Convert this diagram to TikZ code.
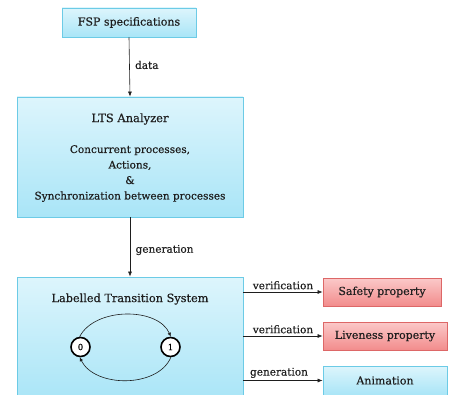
\documentclass[tikz,border=0pt]{standalone}
\usepackage{fontspec}
\setmainfont{DejaVu Serif}[FakeBold=0.4]
\usetikzlibrary{arrows.meta,shadows}
\definecolor{bluetop}{HTML}{DDF5FC}
\definecolor{bluebot}{HTML}{A9E5F7}
\definecolor{blueline}{HTML}{6CCBE6}
\definecolor{redtop}{HTML}{FBC9C9}
\definecolor{redbot}{HTML}{F28C8C}
\definecolor{redline}{HTML}{DD6767}
\definecolor{ink}{HTML}{1E1E1E}
\tikzset{
  bluebox/.style={draw=blueline, line width=0.8pt, top color=bluetop, bottom color=bluebot,
    drop shadow={shadow xshift=1.2pt, shadow yshift=-1.2pt, opacity=0.25}},
  redbox/.style={draw=redline, line width=0.8pt, top color=redtop, bottom color=redbot,
    drop shadow={shadow xshift=1.2pt, shadow yshift=-1.2pt, opacity=0.25}},
  lbl/.style={text=ink, font=\fontsize{10.5}{12}\selectfont},
  boxtxt/.style={text=ink, font=\fontsize{11}{13}\selectfont},
  arr/.style={draw=ink, line width=0.6pt, -{Latex[length=5pt,width=4pt]}},
  state/.style={circle, draw=black, line width=1.6pt, fill=white, minimum size=19pt, inner sep=0pt,
    font=\fontsize{8.5}{10}\selectfont},
}
\begin{document}
\begin{tikzpicture}[x=1pt,y=-1pt]
\useasboundingbox (0,0) rectangle (449,395);

% top input box
\node[bluebox, minimum width=134pt, minimum height=29pt, boxtxt] (fsp) at (129,22.5) {FSP specifications};

% analyzer box
\node[bluebox, minimum width=226pt, minimum height=120pt] (ana) at (130,157) {};
\node[text=ink, font=\fontsize{11.5}{13}\selectfont] (anatitle) at (130,119) {LTS Analyzer};
\node[text=ink, font=\fontsize{10.5}{15.5}\selectfont, align=center] (anabody) at (130,173.5)
  {Concurrent processes,\\ Actions,\\ \&\\ Synchronization between processes};

% labelled transition system box (runs off the bottom edge)
\node[bluebox, minimum width=226pt, minimum height=124pt] (lts) at (130,339) {};
\node[text=ink, font=\fontsize{11.3}{13}\selectfont] (ltstitle) at (130,299) {Labelled Transition System};

% states
\node[state] (s0) at (80.5,347) {0};
\node[state] (s1) at (170.5,347) {1};

% result boxes
\node[redbox, minimum width=118pt, minimum height=28pt, boxtxt] (safe) at (382,292) {Safety property};
\node[redbox, minimum width=124pt, minimum height=28pt, boxtxt] (live) at (385,336) {Liveness property};
\node[bluebox, minimum width=124pt, minimum height=29pt, boxtxt] (anim) at (385,380.5) {Animation};

% vertical flow
\draw[arr] (fsp.south) -- node[lbl, right, xshift=2pt, yshift=2pt] {data} (ana.north);
\draw[arr] (ana.south) -- node[lbl, right, xshift=2pt, yshift=-3pt] {generation} (lts.north);

% outputs of the LTS
\coordinate (o1) at (lts.east |- safe.west);
\coordinate (o2) at (lts.east |- live.west);
\coordinate (o3) at (lts.east |- anim.west);
\draw[arr] (o1) -- node[lbl, above, yshift=-1pt] {verification} (safe.west);
\draw[arr] (o2) -- node[lbl, above, yshift=-1pt] {verification} (live.west);
\draw[arr] (o3) -- node[lbl, above, yshift=-1pt, xshift=-4pt] {generation} (anim.west);

% transitions
\draw[draw=ink, line width=0.6pt, -{Latex[length=4pt,width=3.5pt]}]
  (s0.95) .. controls (95,307) and (158,307) .. (s1.88);
\draw[draw=ink, line width=0.6pt, -{Latex[length=4pt,width=3.5pt]}]
  (s1.272) .. controls (158,388) and (95,388) .. (s0.265);
\end{tikzpicture}
\end{document}
